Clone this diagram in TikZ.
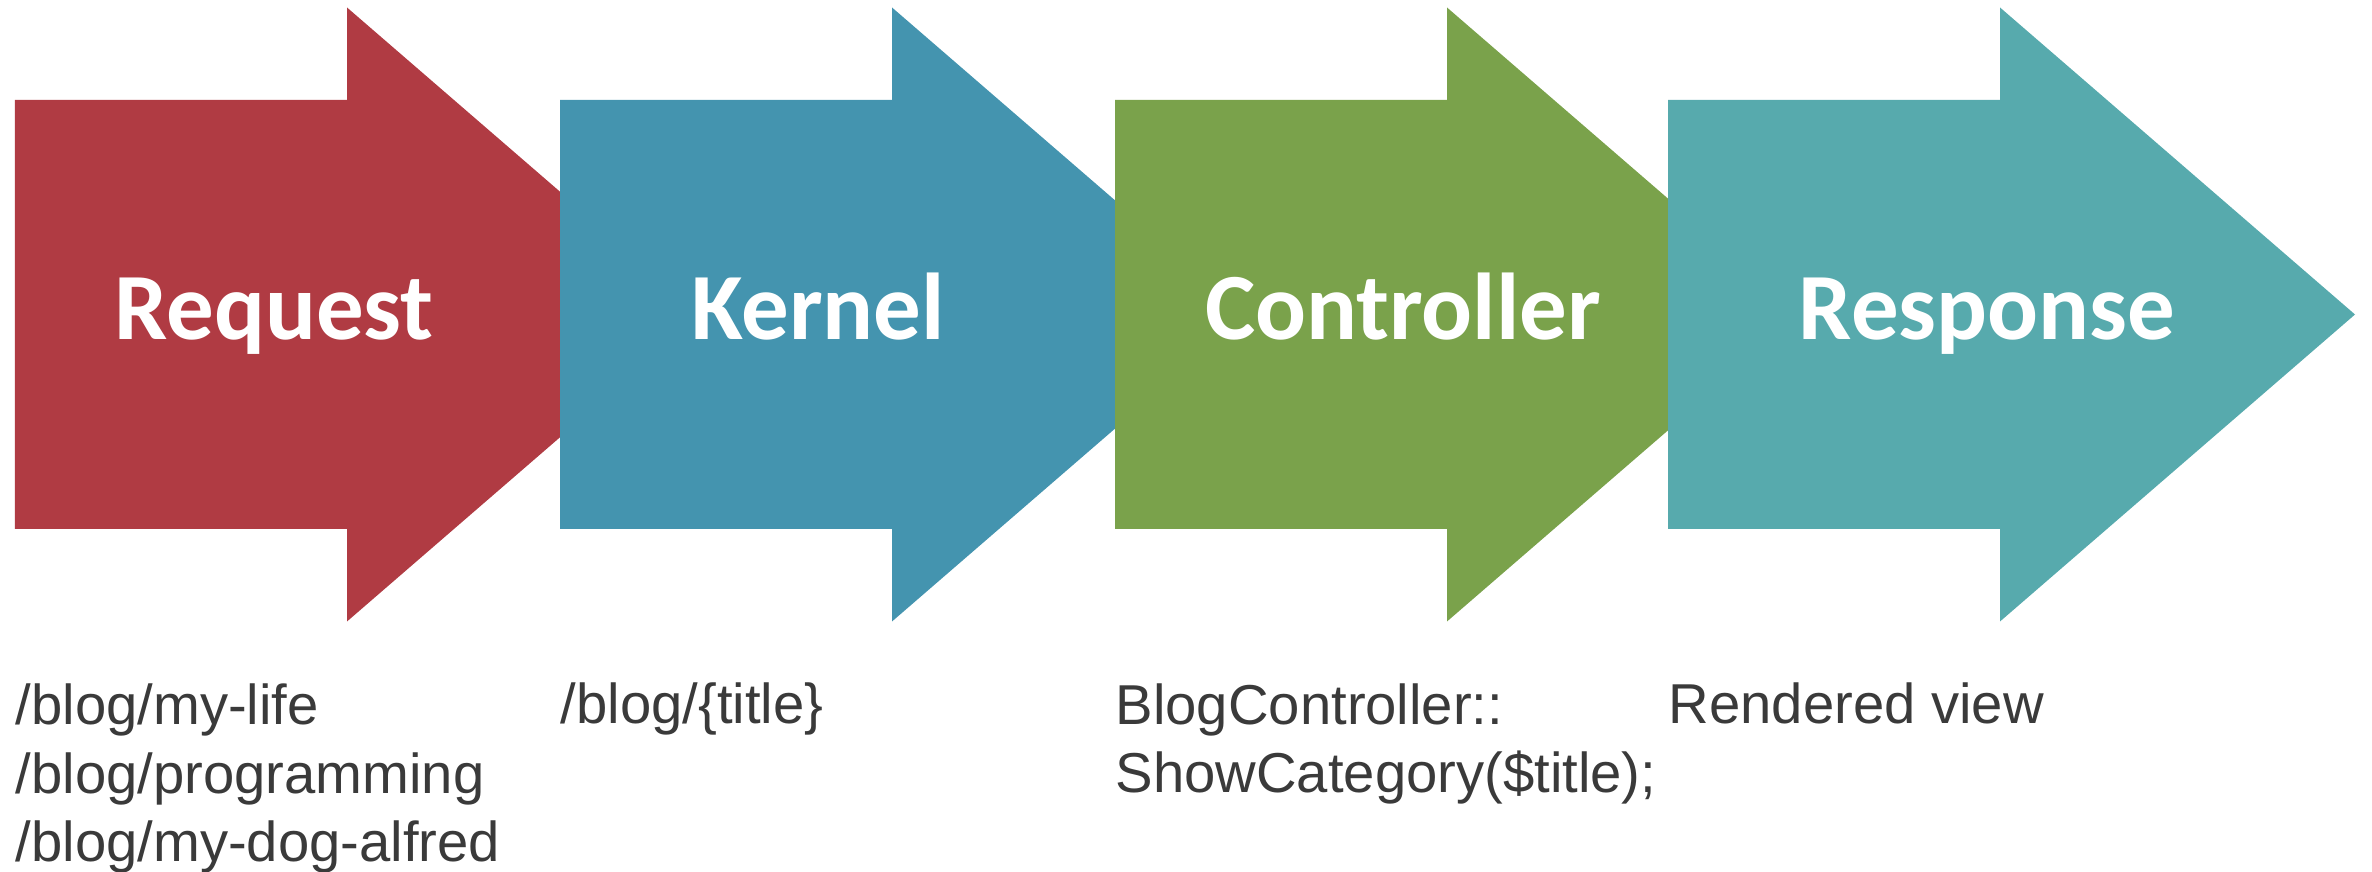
\documentclass[tikz,border=0pt]{standalone}
\usepackage{fontspec}
\setmainfont{Liberation Sans}
\newfontfamily\stagefont{Carlito}
\usepackage{xcolor}
\usepackage{tikz}
\definecolor{reqred}{RGB}{176,59,67}
\definecolor{kernblue}{RGB}{68,148,175}
\definecolor{ctrlgreen}{RGB}{122,162,75}
\definecolor{respteal}{RGB}{87,170,173}
\definecolor{notegray}{RGB}{58,58,58}
\tikzset{
  stagelabel/.style={text=white, anchor=base, inner sep=0pt, font=\stagefont\bfseries\fontsize{27}{30}\selectfont},
  stagenote/.style={text=notegray, anchor=base west, inner sep=0pt, align=left, font=\fontsize{16}{19.6}\selectfont},
}

\begin{document}
\begin{tikzpicture}
\useasboundingbox (0,0) rectangle (23.72,8.72);
\coordinate (R) at (0.15,3.43);
\coordinate (K) at (5.60,3.43);
\coordinate (C) at (11.15,3.43);
\coordinate (S) at (16.68,3.43);
% each stage is a block arrow, the next one lies over the previous head
\fill[color=reqred] (R) -- ++(0,4.29) -- ++(3.32,0) -- ++(0,0.925) -- ++(3.55,-3.07) -- ++(-3.55,-3.07) -- ++(0,0.925) -- cycle;
\fill[color=kernblue] (K) -- ++(0,4.29) -- ++(3.32,0) -- ++(0,0.925) -- ++(3.55,-3.07) -- ++(-3.55,-3.07) -- ++(0,0.925) -- cycle;
\fill[color=ctrlgreen] (C) -- ++(0,4.29) -- ++(3.32,0) -- ++(0,0.925) -- ++(3.55,-3.07) -- ++(-3.55,-3.07) -- ++(0,0.925) -- cycle;
\fill[color=respteal] (S) -- ++(0,4.29) -- ++(3.32,0) -- ++(0,0.925) -- ++(3.55,-3.07) -- ++(-3.55,-3.07) -- ++(0,0.925) -- cycle;
\node[stagelabel] (request) at (2.74,5.32) {Request};
\node[stagelabel] (kernel) at (8.18,5.32) {Kernel};
\node[stagelabel] (controller) at (14.03,5.32) {Controller};
\node[stagelabel] (response) at (19.87,5.32) {Response};
% what each stage sees (placed on the baseline of the last line)
\node[stagenote] (requestnote) at (0.15,0.10) {/blog/my-life\\/blog/programming\\/blog/my-dog-alfred};
\node[stagenote] (kernelnote) at (5.60,1.48) {/blog/\{title\}};
\node[stagenote] (controllernote) at (11.15,0.79) {BlogController::\\ShowCategory(\$title);};
\node[stagenote] (responsenote) at (16.68,1.48) {Rendered view};
\end{tikzpicture}
\end{document}
